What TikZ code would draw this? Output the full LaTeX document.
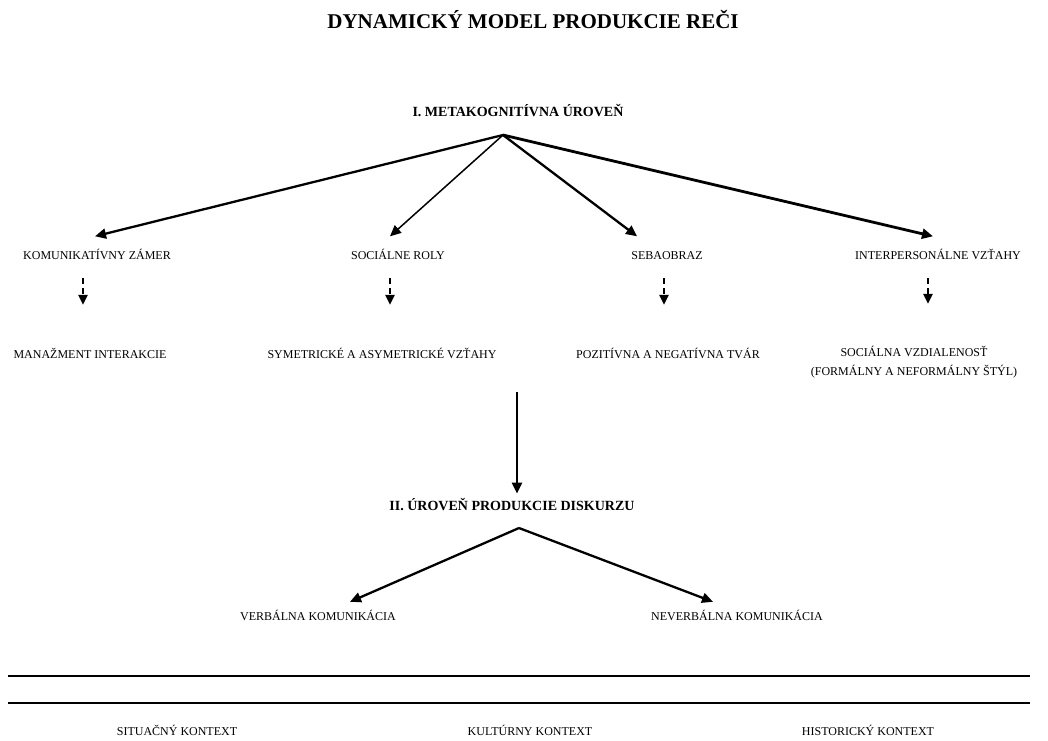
\documentclass[tikz,border=0pt]{standalone}
\usepackage{fontspec}
\setmainfont{Liberation Serif}
\usetikzlibrary{arrows.meta}

\begin{document}
\begin{tikzpicture}[x=1pt,y=-1pt,
  lbl/.style={inner sep=0pt,text height=10.5pt,text depth=0.5pt,font=\fontsize{12}{13}\selectfont},
  lvl/.style={inner sep=0pt,font=\bfseries\fontsize{14}{15}\selectfont},
  arr/.style={line width=2.3pt,-{Triangle[length=11pt,width=10pt]}},
  dasharr/.style={line width=2.5pt,dash pattern=on 6pt off 4pt,-{Triangle[length=10pt,width=9pt]}}]
\useasboundingbox (0,0) rectangle (1048,740);

\node[inner sep=0pt,font=\bfseries\fontsize{21}{23}\selectfont] (title) at (533,19) {DYNAMICKÝ MODEL PRODUKCIE REČI};

% I. uroven
\node[lvl] (lev1) at (518,111) {I. METAKOGNITÍVNA ÚROVEŇ};
\coordinate (apex1) at (503,135);

\node[lbl] (komz) at (97,254) {KOMUNIKATÍVNY ZÁMER};
\node[lbl] (socr) at (398,254) {SOCIÁLNE ROLY};
\node[lbl] (seb) at (667,254) {SEBAOBRAZ};
\node[lbl] (intv) at (938,254) {INTERPERSONÁLNE VZŤAHY};

\draw[arr] (apex1) -- ([xshift=-2pt,yshift=12pt]komz.north);
\draw[arr,line width=1.5pt] (apex1) -- ([xshift=-8pt,yshift=12pt]socr.north);
\draw[arr] (apex1) -- ([xshift=-30pt,yshift=12pt]seb.north);
\draw[arr,line width=2.8pt] (apex1) -- ([xshift=-5pt,yshift=12pt]intv.north);

\node[lbl] (man) at (90,353) {MANAŽMENT INTERAKCIE};
\node[lbl] (symas) at (382,353) {SYMETRICKÉ A ASYMETRICKÉ VZŤAHY};
\node[lbl] (poz) at (668,353) {POZITÍVNA A NEGATÍVNA TVÁR};
\node[inner sep=0pt,font=\fontsize{12}{19}\selectfont,align=center] (socv) at (914,362) {SOCIÁLNA VZDIALENOSŤ\\(FORMÁLNY A NEFORMÁLNY ŠTÝL)};

\draw[dasharr] ([xshift=-14pt,yshift=-18.5pt]komz.south) -- ([xshift=-7pt,yshift=42.5pt]man.north);
\draw[dasharr] ([xshift=-8pt,yshift=-18.5pt]socr.south) -- ([xshift=8pt,yshift=42.5pt]symas.north);
\draw[dasharr] ([xshift=-3pt,yshift=-18.5pt]seb.south) -- ([xshift=-4pt,yshift=42.5pt]poz.north);
\draw[dasharr] ([xshift=-10pt,yshift=-18.5pt]intv.south) -- ([xshift=14pt,yshift=42pt]socv.north);

% II. uroven
\node[lvl] (lev2) at (512,505) {II. ÚROVEŇ PRODUKCIE DISKURZU};
\draw[arr,line width=2.6pt] ([xshift=135pt,yshift=-33.5pt]symas.south) -- ([xshift=5pt,yshift=5pt]lev2.north);
\coordinate (apex2) at (519,528);

\node[lbl] (verb) at (318,615) {VERBÁLNA KOMUNIKÁCIA};
\node[lbl] (never) at (737,615) {NEVERBÁLNA KOMUNIKÁCIA};

\draw[arr] (apex2) -- ([xshift=32pt,yshift=7.5pt]verb.north);
\draw[arr] (apex2) -- ([xshift=-24pt,yshift=7.5pt]never.north);

% kontext
\coordinate (l1a) at (8,676);
\coordinate (l1b) at (1030,676);
\coordinate (l2a) at (8,703);
\coordinate (l2b) at (1030,703);
\draw[line width=2pt] (l1a) -- (l1b);
\draw[line width=2pt] (l2a) -- (l2b);

\node[lbl] (sit) at (177,730) {SITUAČNÝ KONTEXT};
\node[lbl] (kult) at (530,730) {KULTÚRNY KONTEXT};
\node[lbl] (hist) at (868,730) {HISTORICKÝ KONTEXT};
\end{tikzpicture}
\end{document}
